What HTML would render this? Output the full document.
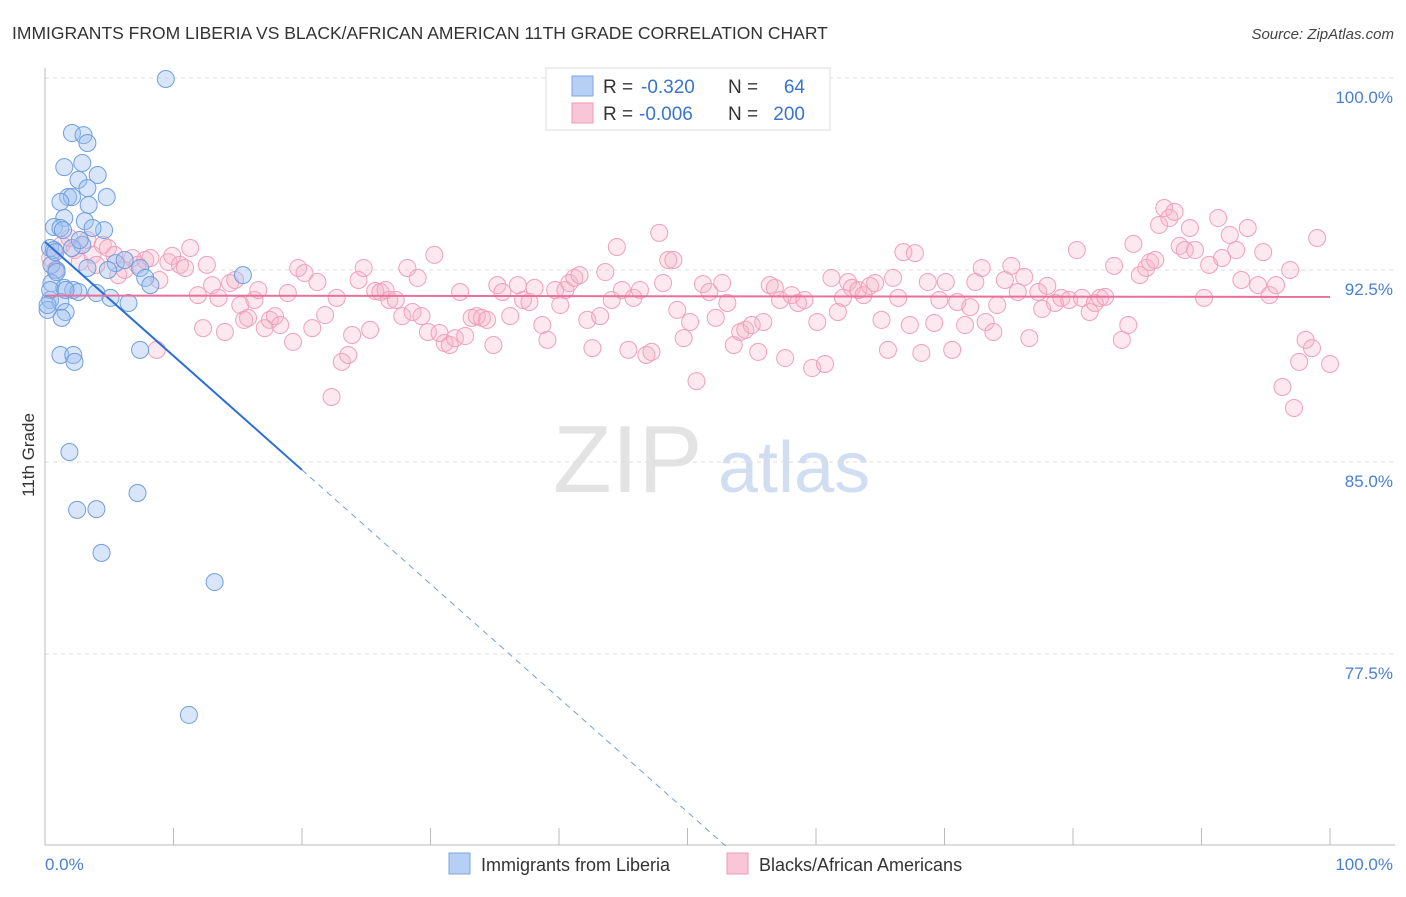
<!DOCTYPE html>
<html><head><meta charset="utf-8"><style>
body{margin:0;background:#fff;font-family:"Liberation Sans",sans-serif;}
svg text{font-family:"Liberation Sans",sans-serif;}
</style></head><body>
<svg id="chart" width="1406" height="892" xmlns="http://www.w3.org/2000/svg">
<text x="12" y="39" font-size="17.5" fill="#333">IMMIGRANTS FROM LIBERIA VS BLACK/AFRICAN AMERICAN 11TH GRADE CORRELATION CHART</text>
<text x="1394" y="39" font-size="15" fill="#444" text-anchor="end" font-style="italic">Source: ZipAtlas.com</text>
<g>
<text x="553" y="492" font-size="96" fill="#ddd" font-family="Liberation Serif,serif" opacity="0.8">ZIP</text>
<text x="718" y="492" font-size="72" fill="#c6d6ee" opacity="0.8">atlas</text>
</g>
<g id="grid"></g>
<g id="axes"></g>
<g id="pts"></g>
<g id="lines"></g>
<text transform="translate(34,455) rotate(-90)" font-size="17" fill="#333" text-anchor="middle">11th Grade</text>
<g>
<rect x="546" y="68" width="284" height="62" fill="#fff" stroke="#ddd"/>
<rect x="572" y="76" width="21" height="20" fill="#b7cff4" stroke="#7ea6e2"/>
<rect x="572" y="103" width="21" height="20" fill="#f8c6d6" stroke="#ef9ab5"/>
<text x="603" y="93" font-size="19" fill="#333">R =</text>
<text x="641" y="93" font-size="19" fill="#3b73d0">-0.320</text>
<text x="728" y="93" font-size="19" fill="#333">N =</text>
<text x="805" y="93" font-size="19" fill="#3b73d0" text-anchor="end">64</text>
<text x="603" y="120" font-size="19" fill="#333">R =</text>
<text x="639" y="120" font-size="19" fill="#3b73d0">-0.006</text>
<text x="728" y="120" font-size="19" fill="#333">N =</text>
<text x="805" y="120" font-size="19" fill="#3b73d0" text-anchor="end">200</text>
</g>
<g>
<rect x="449" y="853" width="21" height="21" fill="#b7cff4" stroke="#7ea6e2"/>
<text x="481" y="871" font-size="18" fill="#333">Immigrants from Liberia</text>
<rect x="727" y="853" width="21" height="21" fill="#f8c6d6" stroke="#ef9ab5"/>
<text x="759" y="871" font-size="18" fill="#333">Blacks/African Americans</text>
</g>
</svg>
<script>
const yTicks=[100,92.5,85,77.5];
const yTickLabels=["100.0%","92.5%","85.0%","77.5%"];
const blueX=[9.4,2.1,3.0,3.3,1.5,2.9,4.1,2.6,3.3,1.8,2.1,4.8,1.2,3.4,1.5,3.1,0.7,1.2,4.6,3.7,0.4,0.7,2.9,0.9,3.3,5.5,6.2,7.4,7.8,8.2,15.4,0.5,1.5,2.2,2.6,4.0,5.1,6.5,0.4,1.2,0.2,1.6,1.3,1.2,2.2,2.3,7.4,1.9,7.2,2.5,4.0,4.4,13.2,11.2,0.5,0.4,0.2,0.9,1.6,4.9,0.8,2.1,2.7,1.4];
const blueY=[99.96,97.85,97.77,97.46,96.52,96.68,96.21,96.02,95.70,95.35,95.35,95.35,95.16,95.04,94.53,94.41,94.18,94.14,94.06,94.14,93.36,93.28,93.48,92.50,92.58,92.77,92.89,92.58,92.19,91.91,92.30,91.99,91.80,91.72,91.64,91.60,91.41,91.21,91.33,91.25,90.94,90.86,90.63,89.18,89.18,88.91,89.38,85.39,83.79,83.13,83.16,81.45,80.31,75.12,92.70,91.72,91.13,92.42,91.72,92.50,93.20,93.36,93.67,94.06];
const pinkX=[0.4,0.8,1.3,1.9,2.3,2.7,3.3,3.7,4.0,4.5,4.9,5.4,5.7,6.2,6.8,7.2,7.8,8.2,8.7,8.9,9.6,9.9,10.5,10.9,11.3,11.9,12.3,12.6,13.0,13.5,14.0,14.4,14.8,15.2,15.5,15.8,16.3,16.6,17.1,17.5,17.9,18.3,18.9,19.3,19.7,20.2,20.8,21.2,21.8,22.3,22.7,23.1,23.6,23.9,24.4,24.8,25.3,25.7,26.1,26.5,26.8,27.3,27.8,28.2,28.6,29.0,29.3,29.8,30.3,30.7,31.1,31.5,31.9,32.3,32.7,33.2,33.6,34.0,34.4,34.9,35.2,35.6,36.2,36.8,37.2,37.7,38.1,38.7,39.1,39.7,40.1,40.5,40.8,41.2,41.6,42.2,42.6,43.2,43.6,44.1,44.5,44.9,45.4,45.8,46.3,46.8,47.2,47.8,48.1,48.5,48.9,49.2,49.7,50.2,50.7,51.2,51.7,52.2,52.7,53.1,53.6,54.1,54.5,55.0,55.5,55.9,56.4,56.8,57.2,57.6,58.1,58.6,59.1,59.7,60.1,60.7,61.2,61.7,62.1,62.5,62.8,63.3,63.7,64.2,64.6,65.1,65.6,66.0,66.4,66.8,67.3,67.7,68.2,68.7,69.2,69.6,70.1,70.6,71.0,71.6,72.0,72.4,72.9,73.2,73.8,74.1,74.7,75.2,75.7,76.2,76.6,77.3,77.6,78.0,78.6,79.1,79.7,80.3,80.7,81.3,81.7,82.1,82.5,83.2,83.8,84.3,84.7,85.2,85.7,86.0,86.4,86.7,87.1,87.5,87.9,88.3,88.7,89.1,89.5,90.2,90.6,91.3,91.6,92.2,92.7,93.1,93.6,94.4,94.8,95.3,95.8,96.3,96.9,97.2,97.6,98.1,98.6,99.0,100.0];
const pinkY=[92.97,92.50,93.48,93.75,93.28,92.81,93.67,93.09,92.70,93.48,93.36,93.09,92.30,92.50,92.97,92.70,92.89,92.97,89.38,92.11,92.81,93.05,92.70,92.58,93.36,91.52,90.23,92.70,91.91,91.41,90.08,91.99,92.11,91.13,90.55,90.63,91.33,91.72,90.23,90.55,90.70,90.35,91.60,89.69,92.58,92.38,90.23,92.03,90.74,87.54,91.41,88.91,89.18,89.96,92.11,92.58,90.16,91.68,91.64,91.72,91.33,91.33,90.70,92.58,90.86,92.19,90.70,90.08,93.09,90.04,89.65,89.57,89.84,91.64,89.92,90.63,90.70,90.63,90.55,89.57,91.91,91.64,90.70,91.91,91.33,91.25,91.80,90.35,89.77,91.72,91.13,91.72,91.99,92.19,92.30,90.55,89.45,90.70,92.42,91.33,93.40,91.72,89.38,91.41,91.72,89.18,89.30,93.95,91.99,92.89,92.89,90.94,89.84,90.47,88.16,91.95,91.64,90.63,91.99,91.21,89.57,90.08,90.16,90.35,89.30,90.47,91.91,91.80,91.33,89.06,91.52,91.21,91.33,88.67,90.47,88.83,92.19,90.86,91.41,92.03,91.80,91.72,91.52,91.88,91.99,90.55,89.38,92.19,91.41,93.20,90.35,93.16,89.26,92.03,90.43,91.33,92.03,89.38,91.25,90.35,91.05,92.03,92.58,90.47,90.08,91.13,92.11,92.66,91.64,92.23,89.84,91.64,90.98,91.88,91.21,91.41,91.33,93.28,91.41,90.86,91.21,91.41,91.45,92.66,89.77,90.35,93.52,92.30,92.58,92.81,92.89,94.26,94.92,94.53,94.77,93.44,93.28,94.14,93.28,91.41,92.70,94.53,92.97,93.87,93.28,92.11,94.14,91.91,93.20,91.52,91.91,87.93,92.50,87.11,88.91,89.77,89.45,93.75,88.83];
const blueFit=[93.6,-0.4455];
const pinkFit=[91.5,-0.0005];
const NS="http://www.w3.org/2000/svg";
const X0=45,X1=1330,Y100=78,PXPER=25.6,YBOT=845,XR=1395;
function sx(v){return X0+(X1-X0)*v/100;}
function sy(v){return Y100+(100-v)*PXPER;}
function mk(tag,attrs,parent){const e=document.createElementNS(NS,tag);for(const k in attrs)e.setAttribute(k,attrs[k]);parent.appendChild(e);return e;}
const grid=document.getElementById('grid'),axes=document.getElementById('axes'),pts=document.getElementById('pts'),lines=document.getElementById('lines');
yTicks.forEach((t,i)=>{
 const l=mk('line',{x1:X0,x2:XR,y1:sy(t),y2:sy(t),stroke:'#ddd','stroke-dasharray':'4,4'},grid);
 
 
 const tx=mk('text',{x:1393,y:sy(t)+25,'font-size':17,fill:'#4a7fd4','text-anchor':'end'},axes);
 tx.textContent=yTickLabels[i];
 
 
});
const ax=mk('line',{x1:X0,x2:XR,y1:YBOT,y2:YBOT,stroke:'#bbb'},axes);


const ay=mk('line',{x1:X0,x2:X0,y1:68,y2:YBOT,stroke:'#bbb'},axes);


for(let k=1;k<=10;k++){
 const t=mk('line',{x1:sx(k*10),x2:sx(k*10),y1:828,y2:YBOT,stroke:'#bbb'},axes);
 
 
}
const xl0=mk('text',{x:45,y:870,'font-size':17,fill:'#4a7fd4'},axes);xl0.textContent='0.0%';


const xl1=mk('text',{x:1393,y:870,'font-size':17,fill:'#4a7fd4','text-anchor':'end'},axes);xl1.textContent='100.0%';


pinkX.forEach((v,i)=>{
 const c=mk('circle',{cx:sx(v),cy:sy(pinkY[i]),r:8.5,fill:'rgba(246,178,200,0.3)',stroke:'#f0a0bb','stroke-width':1},pts);
 
 
});
blueX.forEach((v,i)=>{
 const c=mk('circle',{cx:sx(v),cy:sy(blueY[i]),r:8.5,fill:'rgba(160,192,240,0.4)',stroke:'#6f9fe0','stroke-width':1},pts);
 
 
});
function fy(f,x){return f[0]+f[1]*x;}
const bEnd=20,bDash=(blueFit[0]-70)/(-blueFit[1]);
const b1=mk('line',{x1:sx(0),y1:sy(fy(blueFit,0)),x2:sx(bEnd),y2:sy(fy(blueFit,bEnd)),stroke:'#2a6fd6','stroke-width':2},lines);


const b2=mk('line',{x1:sx(bEnd),y1:sy(fy(blueFit,bEnd)),x2:sx(bDash),y2:sy(fy(blueFit,bDash)),stroke:'#6f9fe0','stroke-width':1,'stroke-dasharray':'6,5'},lines);


const p1=mk('line',{x1:sx(0),y1:sy(fy(pinkFit,0)),x2:sx(100),y2:sy(fy(pinkFit,100)),stroke:'#e8709a','stroke-width':2},lines);


</script>
</body></html>
